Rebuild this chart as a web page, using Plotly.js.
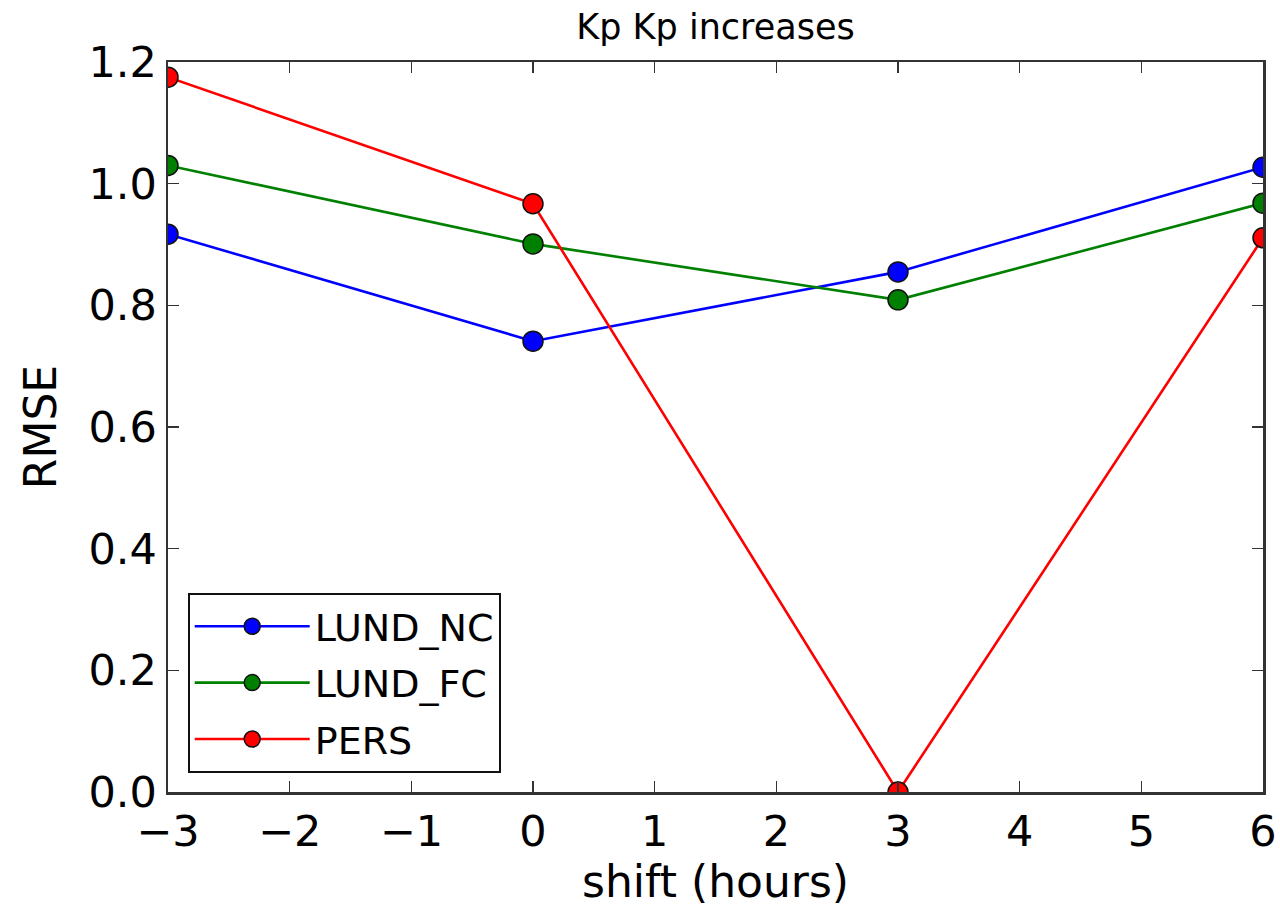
<!DOCTYPE html>
<html>
<head>
<meta charset="utf-8">
<script src="https://cdn.plot.ly/plotly-3.0.1.min.js"></script>
<style>
  html, body { margin: 0; padding: 0; background: #ffffff; }
  #chart { width: 1280px; height: 911px; }
</style>
</head>
<body>
<div id="chart"></div>
<script>
// Forecast time shift (hours) and RMSE of each model for Kp increases
const shiftHours = [-3, 0, 3, 6];
const lundNC = [0.917, 0.741, 0.855, 1.027];
const lundFC = [1.030, 0.901, 0.809, 0.968];
const pers = [1.175, 0.967, 0.0, 0.911];

const seriesNames = ['LUND_NC', 'LUND_FC', 'PERS'];
const seriesColors = ['#0000ff', '#008000', '#ff0000'];
const seriesValues = [lundNC, lundFC, pers];

const traces = seriesValues.map((vals, i) => ({
  type: 'scatter',
  mode: 'lines+markers',
  name: seriesNames[i],
  legendgroup: seriesNames[i],
  x: shiftHours,
  y: vals,
  cliponaxis: true,
  line: { color: seriesColors[i], width: 2.6 },
  marker: { color: seriesColors[i], size: 20, line: { color: '#111111', width: 1.5 } }
}));

const axisCommon = {
  showgrid: false,
  zeroline: false,
  showline: true,
  linecolor: '#333333',
  linewidth: 2.5,
  mirror: 'allticks',
  ticks: 'inside',
  ticklen: 11,
  tickwidth: 1.5,
  tickcolor: '#333333',
  tickfont: { family: 'DejaVu Sans', size: 43, color: '#000000' }
};

const layout = {
  width: 1280,
  height: 911,
  paper_bgcolor: '#ffffff',
  plot_bgcolor: '#ffffff',
  font: { family: 'DejaVu Sans', color: '#000000' },
  margin: { l: 168, r: 17, t: 62, b: 119, pad: 0 },
  title: {
    text: 'Kp Kp increases',
    font: { family: 'DejaVu Sans', size: 35, color: '#000000' },
    x: 0.5, xref: 'paper', xanchor: 'center',
    y: 1 - 27 / 911, yref: 'container', yanchor: 'middle'
  },
  xaxis: Object.assign({}, axisCommon, {
    range: [-3, 6],
    dtick: 1,
    tick0: 0,
    title: { text: 'shift (hours)', font: { family: 'DejaVu Sans', size: 44, color: '#000000' }, standoff: 4 }
  }),
  yaxis: Object.assign({}, axisCommon, {
    range: [0, 1.2],
    dtick: 0.2,
    tick0: 0,
    tickformat: '.1f',
    title: { text: 'RMSE', font: { family: 'DejaVu Sans', size: 44, color: '#000000' }, standoff: 18 }
  }),
  showlegend: true,
  legend: {
    x: 0.018, y: 0.026,
    xanchor: 'left', yanchor: 'bottom',
    bgcolor: '#ffffff',
    bordercolor: '#111111',
    borderwidth: 2,
    font: { family: 'DejaVu Sans', size: 38, color: '#000000' },
    itemwidth: 115,
    tracegroupgap: 4
  }
};

Plotly.newPlot('chart', traces, layout, { displayModeBar: false, staticPlot: true });
</script>
</body>
</html>
